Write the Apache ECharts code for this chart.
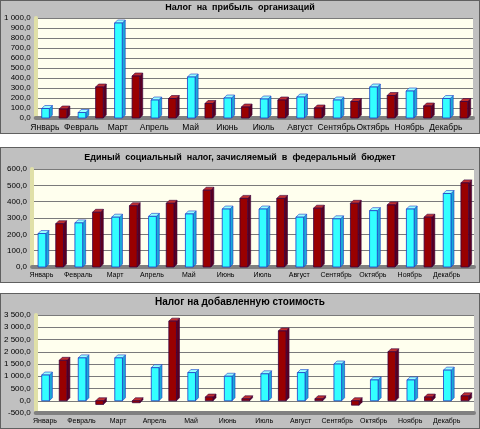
<!DOCTYPE html>
<html>
<head>
<meta charset="utf-8">
<script src="https://cdn.jsdelivr.net/npm/echarts@6/dist/echarts.min.js"></script>
<style>
  html, body { margin: 0; padding: 0; background: #ffffff; }
  .panel { position: absolute; left: 0; width: 478px; background: #c0c0c0; border: 1px solid #606060; }
</style>
</head>
<body>
<div id="c1" class="panel" style="top:0;height:132px"></div>
<div id="c2" class="panel" style="top:147px;height:134px"></div>
<div id="c3" class="panel" style="top:293px;height:134px"></div>
<script>
// месяцы
const months = ['Январь', 'Февраль', 'Март', 'Апрель', 'Май', 'Июнь',
  'Июль', 'Август', 'Сентябрь', 'Октябрь', 'Ноябрь', 'Декабрь'];

// Налог на прибыль организаций
const profitA = [95, 55, 950, 180, 410, 200, 190, 210, 180, 310, 270, 195];
const profitB = [90, 310, 420, 195, 145, 110, 180, 100, 165, 225, 120, 165];

// Единый социальный налог
const esnA = [205, 270, 305, 310, 325, 355, 355, 305, 295, 345, 355, 450];
const esnB = [265, 335, 375, 390, 470, 420, 420, 360, 390, 380, 305, 515];

// НДС
const vatA = [1050, 1750, 1750, 1350, 1150, 1000, 1100, 1150, 1500, 850, 850, 1250];
const vatB = [1650, -150, -80, 3250, 150, 80, 2850, 80, -180, 2000, 150, 200];

const FONT = 'Liberation Sans, Arial, sans-serif';

function fmt(v) {
  const s = Math.abs(v).toFixed(1).split('.');
  const int = s[0].replace(/\B(?=(\d{3})+(?!\d))/g, ' ');
  return (v < 0 ? '-' : '') + int + ',' + s[1];
}

// псевдо-3D столбик как в Excel
function bar3d(offset, front, top, side, edge) {
  return function (params, api) {
    const i = api.value(0), v = api.value(1);
    const base = api.coord([i, 0]);
    const tip = api.coord([i, v]);
    const bw = api.size([1, 0])[0];
    const w = bw * 0.21, d = 3;
    const cx = base[0] + offset * bw;
    const x0 = cx - w / 2, x1 = cx + w / 2;
    const y0 = Math.min(base[1], tip[1]), y1 = Math.max(base[1], tip[1]);
    return {
      type: 'group',
      children: [
        { type: 'polygon', shape: { points: [[x1, y0], [x1 + d, y0 - d], [x1 + d, y1 - d], [x1, y1]] },
          style: { fill: side, stroke: edge, lineWidth: 0.6 } },
        { type: 'polygon', shape: { points: [[x0, y0], [x0 + d, y0 - d], [x1 + d, y0 - d], [x1, y0]] },
          style: { fill: top, stroke: edge, lineWidth: 0.6 } },
        { type: 'rect', shape: { x: x0, y: y0, width: w, height: y1 - y0 },
          style: { fill: front, stroke: edge, lineWidth: 0.8 } }
      ]
    };
  };
}

function toPairs(arr) {
  return arr.map(function (v, i) { return [i, v]; });
}

function makeOption(title, titleTop, titleSize, a, b, min, max, interval, grid, xFont) {
  return {
    animation: false,
    title: {
      text: title, left: 'center', top: titleTop,
      textStyle: { fontFamily: FONT, fontSize: titleSize, fontWeight: 'bold', color: '#000' }
    },
    grid: Object.assign({ backgroundColor: '#ffffee', show: true, borderWidth: 0 }, grid),
    xAxis: {
      type: 'category', data: months,
      axisLine: { onZero: false, lineStyle: { color: '#808080', width: 4 } },
      axisTick: { show: false },
      axisLabel: { fontFamily: FONT, fontSize: xFont, color: '#000', margin: 5, padding: [0, 18, 0, 0], interval: 0 }
    },
    yAxis: {
      type: 'value', min: min, max: max, interval: interval,
      axisLine: { show: true, lineStyle: { color: '#e0e0a8', width: 4 } },
      axisTick: { show: false },
      axisLabel: { fontFamily: FONT, fontSize: 8, color: '#000', margin: 5, formatter: fmt },
      splitLine: { lineStyle: { color: '#7a7a7a', width: 1 } }
    },
    series: [
      { type: 'custom', data: toPairs(a), encode: { x: 0, y: 1 },
        renderItem: bar3d(-0.23, '#33ffff', '#99ffff', '#1aa8d8', '#1a3cc8') },
      { type: 'custom', data: toPairs(b), encode: { x: 0, y: 1 },
        renderItem: bar3d(0.25, '#990000', '#c03030', '#5a0020', '#3a0040') }
    ]
  };
}

const c1 = echarts.init(document.getElementById('c1'));
c1.setOption(makeOption('Налог  на  прибыль  организаций', -3, 9,
  profitA, profitB, 0, 1000, 100, { left: 33, right: 6, top: 17, bottom: 15 }, 8.5));

const c2 = echarts.init(document.getElementById('c2'));
c2.setOption(makeOption('Единый  социальный  налог, зачисляемый  в  федеральный  бюджет', 0, 9,
  esnA, esnB, 0, 600, 100, { left: 31, right: 5, top: 21, bottom: 15 }, 7));

const c3 = echarts.init(document.getElementById('c3'));
c3.setOption(makeOption('Налог на добавленную стоимость', -2, 10,
  vatA, vatB, -500, 3500, 500, { left: 33, right: 5, top: 21, bottom: 15 }, 7));
</script>
</body>
</html>
